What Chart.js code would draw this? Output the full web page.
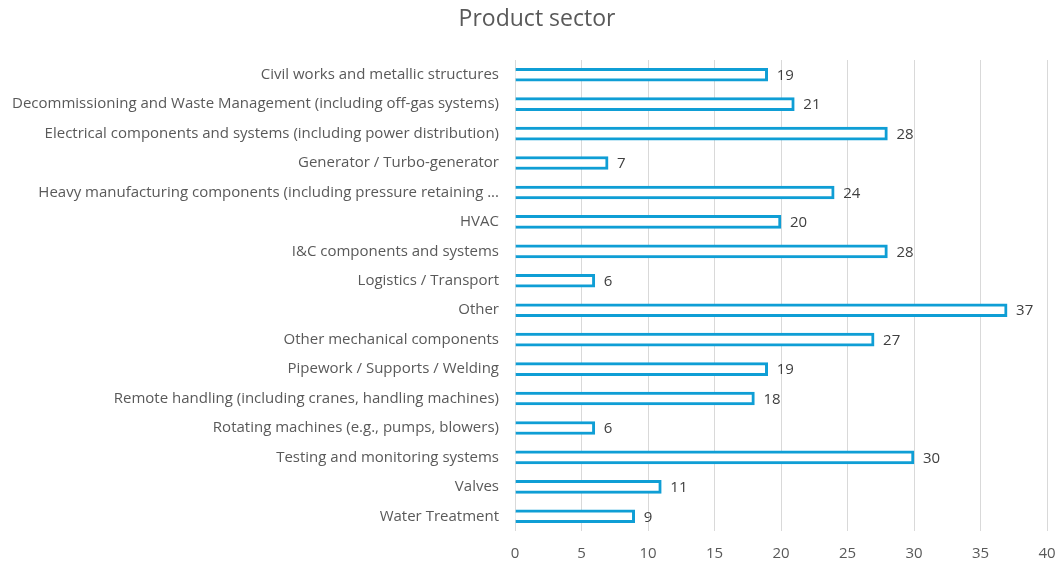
<!DOCTYPE html>
<html>
<head>
<meta charset="utf-8">
<script src="https://cdn.jsdelivr.net/npm/chart.js@4"></script>
<style>
  html, body { margin: 0; padding: 0; background: #fff; }
  #wrap { width: 1061px; height: 565px; }
</style>
</head>
<body>
<div id="wrap"><canvas id="sector"></canvas></div>
<script>
const chartTitle = 'Product sector';
const categories = [
    'Civil works and metallic structures',
    'Decommissioning and Waste Management (including off-gas systems)',
    'Electrical components and systems (including power distribution)',
    'Generator / Turbo-generator',
    'Heavy manufacturing components (including pressure retaining ...',
    'HVAC',
    'I&C components and systems',
    'Logistics / Transport',
    'Other',
    'Other mechanical components',
    'Pipework / Supports / Welding',
    'Remote handling (including cranes, handling machines)',
    'Rotating machines (e.g., pumps, blowers)',
    'Testing and monitoring systems',
    'Valves',
    'Water Treatment'
];
const counts = [19, 21, 28, 7, 24, 20, 28, 6, 37, 27, 19, 18, 6, 30, 11, 9];
const xTicks = [0, 5, 10, 15, 20, 25, 30, 35, 40];

const fontFamily = "'Open Sans', sans-serif";
const barBlue = '#0F9ED5';

// value labels at the end of each bar
const barLabels = {
    id: 'barLabels',
    afterDatasetsDraw(chart) {
        const ctx = chart.ctx;
        const meta = chart.getDatasetMeta(0);
        ctx.save();
        ctx.font = `15px ${fontFamily}`;
        ctx.fillStyle = '#404040';
        ctx.textBaseline = 'middle';
        ctx.textAlign = 'left';
        meta.data.forEach((bar, i) => {
            ctx.fillText(String(counts[i]), bar.x + 9, bar.y + 1);
        });
        ctx.restore();
    }
};

// title centred a bit right of the canvas middle, like the original
const sectorTitle = {
    id: 'sectorTitle',
    afterDraw(chart) {
        const ctx = chart.ctx;
        ctx.save();
        ctx.font = `23px ${fontFamily}`;
        ctx.fillStyle = '#595959';
        ctx.textAlign = 'center';
        ctx.textBaseline = 'middle';
        ctx.fillText(chartTitle, 537, 19);
        ctx.restore();
    }
};

new Chart(document.getElementById('sector'), {
    type: 'bar',
    data: {
        labels: categories,
        datasets: [{
            data: counts,
            backgroundColor: '#ffffff',
            borderColor: barBlue,
            borderWidth: 3,
            borderSkipped: 'start',
            barThickness: 13
        }]
    },
    options: {
        indexAxis: 'y',
        responsive: true,
        maintainAspectRatio: false,
        animation: false,
        layout: { padding: { left: 0, right: 14, top: 60, bottom: 0 } },
        plugins: {
            legend: { display: false },
            tooltip: { enabled: false },
            title: { display: false }
        },
        scales: {
            x: {
                min: 0,
                max: 40,
                afterBuildTicks: axis => { axis.ticks = xTicks.map(v => ({ value: v })); },
                afterFit: axis => { axis.height = 34; },
                border: { display: false },
                grid: {
                    color: '#d9d9d9',
                    lineWidth: 1,
                    drawTicks: true,
                    tickLength: 12,
                    tickColor: 'rgba(0,0,0,0)'
                },
                ticks: {
                    color: '#595959',
                    padding: 2,
                    font: { family: fontFamily, size: 15 }
                }
            },
            y: {
                afterFit: axis => { axis.width = 515; },
                border: { display: false },
                grid: { display: false, drawTicks: false },
                ticks: {
                    color: '#595959',
                    padding: 16,
                    autoSkip: false,
                    font: { family: fontFamily, size: 15 }
                }
            }
        }
    },
    plugins: [barLabels, sectorTitle]
});
</script>
</body>
</html>
